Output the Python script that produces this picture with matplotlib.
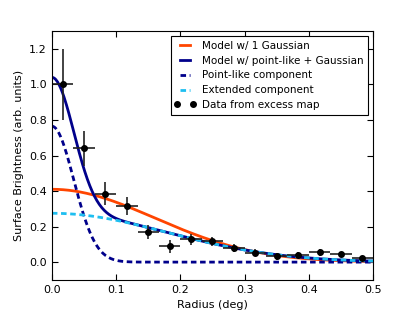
import numpy as np
import matplotlib
matplotlib.use("Agg")
import matplotlib.pyplot as plt
from matplotlib.legend_handler import HandlerLine2D

# Data from excess map
r_data = [0.0167, 0.05, 0.0833, 0.1167, 0.15, 0.1833, 0.2167, 0.25, 0.2833,
          0.3167, 0.35, 0.3833, 0.4167, 0.45, 0.4833]
sb_data = [1.0, 0.64, 0.385, 0.315, 0.17, 0.088, 0.128, 0.118, 0.079,
           0.054, 0.032, 0.041, 0.055, 0.043, 0.022]
sb_err = [0.2, 0.1, 0.065, 0.05, 0.04, 0.037, 0.03, 0.025, 0.022,
          0.02, 0.018, 0.018, 0.018, 0.016, 0.015]
r_err = [0.0167] * len(r_data)

# Model parameters (amplitude, sigma in deg)
single_amp, single_sigma = 0.41, 0.16
point_amp, point_sigma = 0.765, 0.034
ext_amp, ext_sigma = 0.275, 0.18

r = np.linspace(0, 0.5, 400)
single = single_amp * np.exp(-r**2 / (2 * single_sigma**2))
point = point_amp * np.exp(-r**2 / (2 * point_sigma**2))
ext = ext_amp * np.exp(-r**2 / (2 * ext_sigma**2))
total = point + ext

plt.rcParams['font.family'] = ['DejaVu Sans']
plt.rcParams['font.size'] = 8

fig = plt.figure(figsize=(4.15, 3.12), dpi=100)
ax = fig.add_axes([0.125, 0.103, 0.774, 0.797])

dash = (0, (2.0, 1.3))
ax.plot(r, single, color='#FF4500', lw=2, label='Model w/ 1 Gaussian')
ax.plot(r, total, color='#00008B', lw=2, label='Model w/ point-like + Gaussian')
ax.plot(r, point, color='#00008B', lw=2, ls=dash, label='Point-like component')
ax.plot(r, ext, color='#1EBEF0', lw=2, ls=dash, label='Extended component')
ax.errorbar(r_data, sb_data, yerr=sb_err, xerr=r_err, fmt='none',
            ecolor='#222222', elinewidth=1.2, capsize=0)
pts, = ax.plot(r_data, sb_data, 'o', color='black', ms=4, label='Data from excess map')

ax.set_xlim(0, 0.5)
ax.set_ylim(-0.1, 1.3)
ax.set_xticks(np.arange(0, 0.51, 0.1))
ax.set_yticks(np.arange(0, 1.21, 0.2))
ax.tick_params(direction='in', top=True, right=True, length=4, labelsize=8)
ax.set_xlabel('Radius (deg)', fontsize=8)
ax.set_ylabel('Surface Brightness (arb. units)', fontsize=8)

leg = ax.legend(loc='upper right', fontsize=7.5, numpoints=2, fancybox=False,
                framealpha=1, edgecolor='black', handlelength=1.6,
                borderpad=0.5, labelspacing=0.45, borderaxespad=0.45,
                handler_map={pts: HandlerLine2D(marker_pad=0.05)})
leg.get_frame().set_linewidth(0.8)

fig.savefig('out.png', dpi=100)
